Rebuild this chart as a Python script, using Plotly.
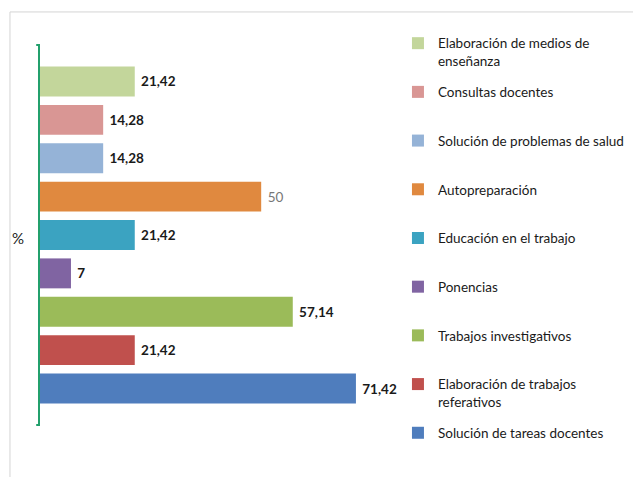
import plotly.graph_objects as go

# top-to-bottom order as drawn
categories = [
    "Elaboración de medios de enseñanza",
    "Consultas docentes",
    "Solución de problemas de salud",
    "Autopreparación",
    "Educación en el trabajo",
    "Ponencias",
    "Trabajos investigativos",
    "Elaboración de trabajos referativos",
    "Solución de tareas docentes",
]
legend_labels = [
    "Elaboración de medios de<br>enseñanza",
    "Consultas docentes<br> ",
    "Solución de problemas de salud<br> ",
    "Autopreparación<br> ",
    "Educación en el trabajo<br> ",
    "Ponencias<br> ",
    "Trabajos investigativos<br> ",
    "Elaboración de trabajos<br>referativos",
    "Solución de tareas docentes",
]
values = [21.42, 14.28, 14.28, 50, 21.42, 7, 57.14, 21.42, 71.42]
colors = ["#c3d69b", "#d99694", "#95b3d7", "#e0893f", "#3ba3c1",
          "#8064a2", "#9bbb59", "#c0504d", "#4f7dbd"]

FONT = "Lato"

fig = go.Figure()
for cat, lab, val, col in zip(categories, legend_labels, values, colors):
    plain = cat == "Autopreparación"
    fig.add_trace(go.Bar(
        y=[cat], x=[val], orientation="h", name=lab,
        marker=dict(color=col, line=dict(width=0)),
        width=0.78,
        text=[val], texttemplate=" %{x}", textposition="outside",
        cliponaxis=False,
        textfont=dict(family=FONT, size=13.5,
                      color="#777777" if plain else "#1a1a1a",
                      weight="normal" if plain else "bold"),
        legendgroup=cat,
        hoverinfo="skip",
    ))

fig.update_layout(
    width=633, height=477,
    margin=dict(l=40, r=213, t=45, b=52, autoexpand=False),
    paper_bgcolor="white", plot_bgcolor="white",
    barmode="overlay",
    separators=",.",
    font=dict(family=FONT, size=13.5, color="#1a1a1a"),
    showlegend=True,
    legend=dict(
        x=0.942, xanchor="left", y=1.045, yanchor="top",
        traceorder="grouped", tracegroupgap=10.6, valign="top",
        maxheight=470,
        font=dict(family=FONT, size=13.5, color="#1a1a1a"),
        bgcolor="rgba(0,0,0,0)", itemclick=False,
    ),
    xaxis=dict(range=[0, 85.9], visible=False),
    yaxis=dict(
        categoryorder="array", categoryarray=list(reversed(categories)),
        range=[-0.95, 8.95], showticklabels=False, ticks="",
        showgrid=False, zeroline=False,
        showline=True, linecolor="#23a06c", linewidth=2,
    ),
    annotations=[dict(text="%", xref="paper", yref="paper", x=-0.059, y=0.492,
                      xanchor="center", yanchor="middle", showarrow=False,
                      font=dict(family=FONT, size=15, color="#222"))],
    shapes=[
        dict(type="rect", xref="paper", yref="paper", x0=-0.079, x1=1.7,
             y0=-0.2, y1=1.087, line=dict(color="#d4d4d4", width=1), layer="below"),
        dict(type="line", xref="paper", yref="paper", x0=0, x1=-0.01, y0=1, y1=1,
             line=dict(color="#23a06c", width=2)),
        dict(type="line", xref="paper", yref="paper", x0=0, x1=-0.01, y0=0, y1=0,
             line=dict(color="#23a06c", width=2)),
    ],
)

fig.write_html("out.html", config={"displayModeBar": False},
               post_script="document.body.style.margin='0';")
